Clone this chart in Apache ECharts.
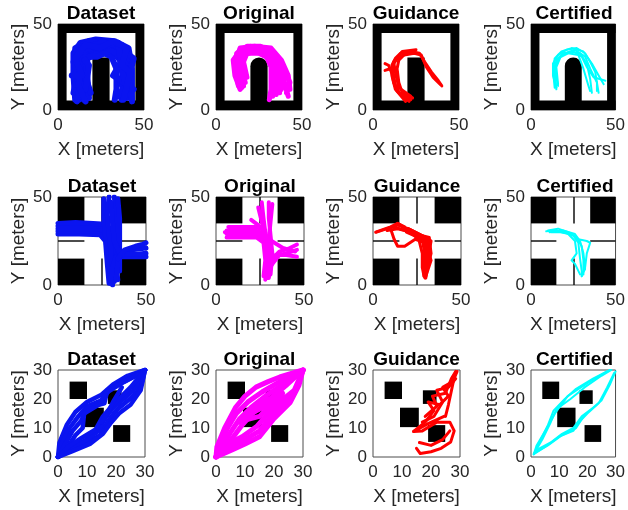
<!DOCTYPE html>
<html>
<head>
<meta charset="utf-8">
<script src="https://cdn.jsdelivr.net/npm/echarts@6/dist/echarts.min.js"></script>
<style>
  html, body { margin: 0; padding: 0; background: #fff; }
  #chart { width: 628px; height: 510px; }
</style>
</head>
<body>
<div id="chart"></div>
<script>
// panel titles and colours (one per column)
const titles = ['Dataset', 'Original', 'Guidance', 'Certified']
const colors = ['#0a14f0', '#ff00ff', '#ff0000', '#00ffff']

// axis ranges / ticks per row
const rowMax = [50, 50, 30]
const rowInterval = [50, 50, 10]

// row 1: U-shaped room, [x1, y1, x2, y2, roundTop]
const roomWalls = [[0, 0, 50, 5.5, 0], [0, 44.8, 50, 50, 0], [0, 0, 5, 50, 0], [45, 0, 50, 50, 0]]
const roomBlock = [20, 0, 30, 30.5]

// row 2: crossroads blocks and lane markings
const crossBlocks = [[0, 0, 15, 15, 0], [35, 0, 50, 15, 0], [0, 35, 15, 50, 0], [35, 35, 50, 50, 0]]
const crossLanes = [[[0, 25], [15, 25]], [[35, 25], [50, 25]], [[25, 0], [25, 15]], [[25, 35], [25, 50]]]

// row 3: square obstacles
const boxObstacles = [[4, 20, 10, 26, 0], [9.3, 10.3, 15.8, 17, 0], [17.2, 18.3, 21.9, 23, 0], [19, 5.2, 24.9, 11, 0]]

// trajectories, row 1
const dsRoom = [
  [[10, 6], [9, 20], [9, 33], [13, 39], [22, 41], [33, 40], [41, 36], [43, 24], [43, 6]],
  [[12, 6], [11, 18], [11, 30], [15, 36], [24, 38], [33, 37], [39, 32], [41, 20], [40, 7]],
  [[15, 6], [14, 17], [14, 28], [17, 33], [25, 35], [32, 34], [36, 29], [38, 18], [37, 6]],
  [[18, 7], [17, 20], [17, 30], [21, 32], [27, 33], [31, 31], [34, 24], [34, 12], [33, 6]],
  [[9, 10], [12, 24], [10, 36], [18, 40], [28, 39], [37, 38], [42, 30], [42, 15], [39, 10]],
  [[13, 8], [10, 26], [14, 37], [20, 36], [30, 38], [36, 33], [40, 27], [36, 16], [41, 9]],
  [[19, 10], [15, 22], [16, 31], [23, 31], [31, 35], [38, 34], [43, 28], [39, 14], [35, 8]],
  [[10, 15], [16, 12], [18, 26], [12, 34], [21, 38], [29, 36], [38, 30], [32, 20], [44, 12]],
  [[11, 5], [13, 15], [9, 28], [16, 34], [26, 40], [36, 36], [44, 30], [41, 18], [43, 5]],
  [[16, 5], [12, 14], [13, 25], [11, 32], [19, 37], [27, 37], [35, 39], [37, 24], [40, 12]],
  [[8, 20], [14, 20], [10, 30], [16, 38], [24, 36], [32, 40], [40, 36], [37, 26], [42, 22], [38, 6]]
]
const orRoom = [
  [[15, 13], [12, 22], [11, 30], [14, 35], [20, 37], [28, 36], [34, 32], [38, 25], [40, 15], [42, 8]],
  [[16, 14], [13, 24], [13, 31], [17, 34], [24, 35], [30, 33], [35, 27], [36, 18], [37, 10]],
  [[14, 12], [11, 20], [10, 29], [13, 33], [19, 36], [27, 36], [33, 30], [35, 20], [33, 8]],
  [[17, 16], [14, 26], [16, 32], [22, 34], [29, 32], [32, 25], [32, 12], [31, 6]],
  [[16, 15], [12, 25], [12, 33], [18, 37], [26, 37], [33, 33], [39, 24], [43, 16], [41, 10]],
  [[15, 14], [13, 28], [16, 35], [23, 36], [31, 34], [36, 28], [39, 20], [38, 12]],
  [[14, 16], [12, 26], [15, 33], [21, 35], [30, 35], [34, 28], [34, 18], [35, 9]],
  [[18, 19], [16, 28], [18, 33], [25, 33], [31, 30], [37, 22], [40, 13]],
  [[13, 14], [11, 27], [14, 36], [22, 37], [32, 36], [38, 29], [42, 20], [43, 12]]
]
const guRoom = [
  [[22, 6], [16, 9], [13, 14], [12, 20], [11, 26], [13, 30], [16, 33], [22, 34], [27, 33], [30, 28], [34, 22], [38, 17], [40, 14]],
  [[21, 5], [15, 10], [12, 16], [11, 22], [9, 26], [7, 27]],
  [[20, 6], [14, 11], [12, 18], [10, 24], [7, 23]],
  [[23, 7], [17, 10], [15, 16], [14, 24], [15, 29], [18, 32], [24, 33], [28, 32], [31, 25], [35, 19], [39, 15]],
  [[19, 5], [13, 12], [11, 20], [12, 27], [15, 31], [21, 33]],
  [[22, 8], [15, 13], [13, 22], [12, 28], [17, 34], [25, 35]]
]
const ceRoom = [
  [[15, 13], [13, 20], [13, 27], [16, 32], [21, 35], [27, 36], [32, 33], [35, 28], [38, 22], [40, 10]],
  [[15, 12], [14, 22], [15, 29], [19, 33], [25, 34], [30, 31], [33, 25], [37, 19], [44, 17]],
  [[16, 14], [14, 24], [17, 31], [23, 34], [29, 33], [33, 27], [35, 18], [36, 10]],
  [[15, 13], [13, 22], [14, 30], [18, 34], [24, 36], [31, 34], [36, 27], [40, 20], [43, 15]],
  [[14, 13], [13, 23], [16, 30], [22, 33], [28, 32], [31, 24], [34, 14], [35, 11]],
  [[16, 15], [15, 25], [18, 32], [26, 35], [32, 31], [35, 24], [39, 16], [39, 11]]
]

// trajectories, row 2
const dsCross = [
  [[0, 29], [12, 29], [24, 28.5], [27, 25], [28, 12], [29, 1]],
  [[0, 30.5], [10, 30.5], [20, 31], [26, 30], [29, 25], [30, 15], [30, 5], [31, 0]],
  [[0, 32], [12, 32], [22, 32], [27, 31], [30, 26], [31, 14], [31, 2]],
  [[0, 33.5], [12, 33.5], [22, 33.5], [28, 33], [31, 28], [32, 15], [32, 2]],
  [[0, 35], [10, 35.5], [20, 35], [27, 34.5]],
  [[26, 49], [26, 38], [27, 28], [28, 18], [29, 8]],
  [[29, 50], [28, 40], [29, 30], [30, 20], [31, 10], [31, 1]],
  [[32, 50], [33, 40], [33, 30], [34, 20], [33, 10], [34, 3]],
  [[34, 49], [35, 38], [35, 28], [35, 18], [35, 8]],
  [[30, 1], [31, 10], [33, 16], [40, 16], [50, 16]],
  [[33, 3], [34, 12], [36, 19], [42, 20], [50, 21]],
  [[30, 47], [31, 35], [32, 25], [35, 18], [45, 17.5], [50, 18]],
  [[34, 15], [38, 20], [44, 22], [48, 23], [50, 24]]
]
const orCross = [
  [[6, 27], [15, 27], [23, 27], [27, 24], [28, 14], [27, 5]],
  [[6, 29], [12, 29], [20, 29], [26, 27], [29, 22], [29, 12], [28, 3]],
  [[6, 31], [14, 31], [22, 31], [28, 29], [31, 20], [30, 8], [29, 4]],
  [[7, 33], [15, 33], [22, 33], [28, 31]],
  [[26, 47], [27, 38], [28, 30], [30, 20], [31, 10], [30, 4]],
  [[30, 47], [30, 38], [31, 28], [32, 18], [31, 6]],
  [[32, 46], [31, 36], [30, 26]],
  [[24, 44], [26, 36], [28, 28]],
  [[30, 8], [32, 15], [36, 19], [42, 21], [46, 23]],
  [[31, 10], [34, 17], [40, 17], [46, 16]],
  [[32, 12], [36, 17], [43, 19], [46, 20]],
  [[20, 37], [24, 34], [28, 30]],
  [[5, 30], [18, 29.5], [25, 29], [30, 26], [38, 21], [45, 19]]
]
const guCross = [
  [[2, 30], [8, 32], [14, 34], [20, 32], [26, 29], [32, 26], [33, 18], [31, 10], [30, 4]],
  [[8, 31], [14, 32], [22, 30], [28, 27], [32, 22], [31, 12], [29, 5]],
  [[12, 33], [18, 31], [24, 28], [29, 24], [30, 15], [29, 6]],
  [[14, 35], [20, 31], [26, 26], [28, 18], [28, 10], [29, 5]],
  [[10, 32], [12, 26], [14, 22], [18, 22], [24, 26], [30, 24], [33, 14], [30, 5]],
  [[1.5, 30], [10, 33], [14, 35], [18, 33]],
  [[20, 32], [30, 27], [31, 18], [30, 8]],
  [[22, 31], [31, 26], [30, 16], [29, 6]],
  [[24, 29], [32, 27], [32, 20], [30, 10]],
  [[19, 30], [28, 26], [29, 20], [29, 8]],
  [[26, 28], [33, 25], [31, 14], [29.5, 4]]
]
const ceCross = [
  [[9, 30.5], [14, 31], [20, 30], [25, 28], [28, 24], [29, 15], [30, 8], [30, 5]],
  [[10, 31], [16, 32], [22, 30], [27, 27], [30, 22], [31, 14], [31, 6]],
  [[12, 30], [18, 30], [24, 29], [28, 26], [33, 25], [35, 24], [33, 18], [32, 10], [30, 5]],
  [[14, 31], [22, 29], [26, 25], [27, 18], [24, 14], [26, 12], [29, 6]],
  [[11, 30], [19, 31], [26, 29], [29, 25], [31, 18], [32, 9], [30, 6]]
]

// trajectories, row 3
const dsBox = [
  [[0, 0], [0.5, 5], [3, 11], [6, 15.5], [10, 19], [15, 21.5], [19, 25], [24, 28], [30, 30]],
  [[0, 0], [1.5, 5], [4, 10], [7, 14], [10, 17.5], [15, 19.5], [18, 23.5], [24, 27], [30, 30]],
  [[0, 0], [2.5, 4.5], [5, 9], [8, 12.5], [10, 17], [16, 18.5], [17, 23], [23, 26], [30, 30]],
  [[0, 0], [3, 3], [6, 7.5], [8.5, 10], [9, 15], [14, 18], [16.5, 22], [22, 25.5], [28, 28.5], [30, 30]],
  [[0, 0], [4.5, 2.5], [10, 5], [14.5, 7.5], [17, 12], [20, 16], [23, 18.5], [27, 22], [29, 26], [30, 30]],
  [[0, 0], [4, 3], [9, 5.5], [14, 9], [16, 13], [19, 17], [22, 19.5], [26, 23], [30, 30]],
  [[0, 0], [3.5, 3.5], [8, 6.5], [13, 9.5], [15.5, 14], [18.5, 17.5], [21.5, 20.5], [25, 24], [30, 30]],
  [[0, 0], [5, 2], [11, 4.5], [15.5, 8], [18, 11.5], [21, 15], [25, 18], [28.5, 23], [30, 30]],
  [[15, 12], [17, 15], [19, 19], [22, 24]]
]
const orBox = [
  [[0, 0], [0.3, 3.5], [3, 10], [6.7, 17], [10, 21], [13.8, 24.1], [18, 26], [22, 27.6], [30, 30]],
  [[0, 0], [1.5, 4], [4, 10], [7, 15], [11, 19], [16, 22.5], [22, 26], [30, 30]],
  [[0, 0], [2.5, 4], [5, 8.5], [8, 13], [12, 17], [17, 21], [23, 25], [30, 30]],
  [[0, 0], [3, 3], [6, 7], [9, 11], [12.5, 15], [18, 19.5], [24, 24.5], [30, 30]],
  [[0, 0], [5.5, 2.4], [10, 4.5], [15, 7], [19.7, 12.9], [25.6, 18.8], [28.6, 24.7], [30, 30]],
  [[0, 0], [5, 3.5], [10, 6], [15, 9], [19, 14], [24, 19], [28, 24], [30, 30]],
  [[0, 0], [4, 4.5], [9, 7], [14, 10.5], [18, 15], [22, 19], [27, 23], [30, 30]],
  [[8, 12], [12, 15], [16, 17], [20, 19], [23, 21]],
  [[10, 14], [14, 17], [18, 20], [22, 20]],
  [[11, 13], [15, 14], [19, 18], [23, 22]],
  [[9, 13], [13, 16.5], [17, 19], [21, 20.5]]
]
const guBox = [
  [[15, 3], [16.3, 1.2], [20, 1.8], [23.5, 3], [26.8, 5.2], [28, 9], [26.5, 12], [22, 12], [17, 9], [14, 8.8], [19, 11.5], [24.5, 14]],
  [[14, 8.8], [18, 12], [21, 16], [19, 19], [23, 18], [26, 21], [24, 24], [27.5, 26], [29, 29.5]],
  [[18, 14], [22, 17.5], [20.5, 21], [25, 22], [27, 27], [28.5, 29.5], [27.5, 25], [26, 18], [25, 14]],
  [[17, 12], [21, 14], [24, 19], [22, 23], [26, 24], [28.5, 27]],
  [[16, 5], [20, 4], [24, 6], [26.5, 9]]
]
const ceBox = [
  [[1, 1], [3, 5], [6, 11], [8, 16], [12, 20], [16, 23.5], [22, 27], [28, 30]],
  [[1, 1], [4, 6], [7, 12], [9, 16.5], [14, 20], [19, 24], [25, 28], [28.5, 30]],
  [[1, 1], [3, 3], [7, 5], [11, 8], [15, 10], [18, 14], [22, 17], [25, 19.5], [28, 25], [30, 29.5]],
  [[1, 1], [5, 3.5], [10, 7], [15, 9], [17, 12], [20, 15], [24, 18.5], [27, 24], [29.5, 29]],
  [[1.5, 1.5], [6, 4], [11, 7.5], [16, 10], [19, 14.5]],
  [[1, 1], [2, 4], [5, 9], [8.5, 15], [13, 21], [20, 25.5], [27, 29.5]]
]

const trajectories = [
  [dsRoom, orRoom, guRoom, ceRoom],
  [dsCross, orCross, guCross, ceCross],
  [dsBox, orBox, guBox, ceBox]
]
const trajWidth = [
  [6, 5, 3, 2],
  [5, 4, 3, 2],
  [4.5, 5, 3, 2]
]

// layout
const colLeft = [58, 216, 373, 531]
const rowTop = [24, 197, 370]
const rowSize = [86, 88, 87]
const FONT = 'Liberation Sans, Arial, sans-serif'
const TXT = '#262626'

function obstaclesFor(row, col) {
  if (row === 0) return roomWalls.concat([roomBlock.concat([col === 1 || col === 3 ? 1 : 0])])
  if (row === 1) return crossBlocks
  return boxObstacles
}

function renderRect(params, api) {
  const p1 = api.coord([api.value(0), api.value(1)])
  const p2 = api.coord([api.value(2), api.value(3)])
  const w = p2[0] - p1[0]
  const h = p1[1] - p2[1]
  const r = api.value(4) ? [w / 2, w / 2, 0, 0] : 0
  return {
    type: 'rect',
    shape: { x: p1[0], y: p2[1], width: w, height: h, r: r },
    style: { fill: '#000' }
  }
}

const grid = []
const xAxis = []
const yAxis = []
const title = []
const series = []

for (let row = 0; row < 3; row++) {
  for (let col = 0; col < 4; col++) {
    const idx = row * 4 + col
    const size = rowSize[row]
    grid.push({
      left: colLeft[col], top: rowTop[row], width: size, height: size,
      show: true, borderColor: '#4d4d4d', borderWidth: 1, backgroundColor: '#fff'
    })
    const axisCommon = {
      gridIndex: idx,
      type: 'value',
      min: 0,
      max: rowMax[row],
      interval: rowInterval[row],
      splitLine: { show: false },
      axisLine: { show: false },
      axisTick: { show: false },
      nameLocation: 'middle',
      nameMoveOverlap: false,
      nameTextStyle: { fontFamily: FONT, fontSize: 19, color: TXT },
      axisLabel: { fontFamily: FONT, fontSize: 17, color: TXT }
    }
    xAxis.push(Object.assign({}, axisCommon, {
      name: 'X [meters]', nameGap: 30,
      axisLabel: Object.assign({}, axisCommon.axisLabel, { margin: 7 })
    }))
    yAxis.push(Object.assign({}, axisCommon, {
      name: 'Y [meters]', nameGap: 30,
      axisLabel: Object.assign({}, axisCommon.axisLabel, { margin: 6 })
    }))
    title.push({
      text: titles[col],
      left: colLeft[col] + size / 2,
      top: rowTop[row] - 20,
      textAlign: 'center',
      padding: 0,
      textStyle: { fontFamily: FONT, fontSize: 19, fontWeight: 'bold', color: '#000' }
    })

    series.push({
      type: 'custom',
      xAxisIndex: idx,
      yAxisIndex: idx,
      renderItem: renderRect,
      data: obstaclesFor(row, col),
      silent: true,
      z: 2
    })
    if (row === 1) {
      series.push({
        type: 'lines',
        coordinateSystem: 'cartesian2d',
        xAxisIndex: idx,
        yAxisIndex: idx,
        data: crossLanes.map(c => ({ coords: c })),
        lineStyle: { color: '#111', width: 1.5, opacity: 1 },
        silent: true,
        z: 3
      })
    }
    series.push({
      type: 'lines',
      coordinateSystem: 'cartesian2d',
      polyline: true,
      xAxisIndex: idx,
      yAxisIndex: idx,
      data: trajectories[row][col].map(c => ({ coords: c })),
      lineStyle: { color: colors[col], width: trajWidth[row][col], opacity: 1, join: 'round', cap: 'round' },
      silent: true,
      z: 4
    })
  }
}

const chart = echarts.init(document.getElementById('chart'))
chart.setOption({
  animation: false,
  backgroundColor: '#fff',
  title: title,
  grid: grid,
  xAxis: xAxis,
  yAxis: yAxis,
  series: series
})
</script>
</body>
</html>
